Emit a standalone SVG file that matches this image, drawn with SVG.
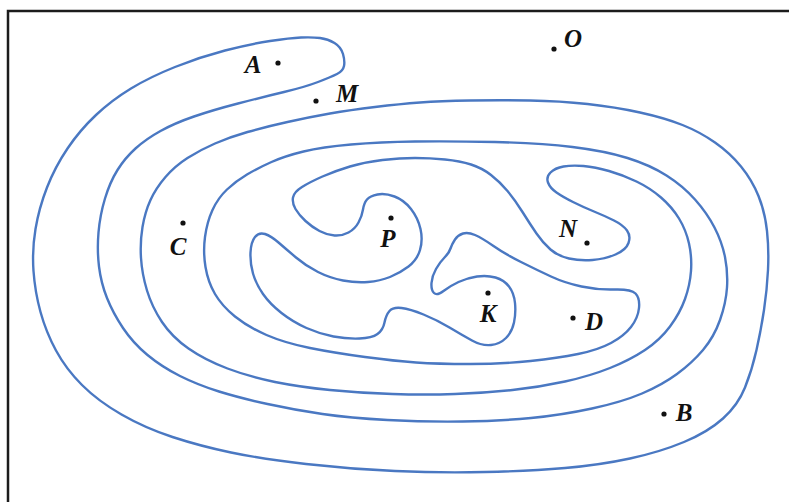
<svg xmlns="http://www.w3.org/2000/svg" width="789" height="502" viewBox="0 0 789 502">
<style>
.frame{stroke:#1c1c1c;stroke-width:2.5;fill:none}
.curve{stroke:#4a78c2;stroke-width:2.4;fill:none;stroke-linejoin:round}
.dot{fill:#111}
.lbl{font-family:"Liberation Serif","DejaVu Serif",serif;font-style:italic;font-weight:bold;font-size:25px;fill:#111;text-anchor:middle}
</style>
<rect width="789" height="502" fill="#fff"/>
<g id="frame"><path class="frame" d="M8 502 V11 H789"/></g>
<g id="curve">
<path class="curve" d="M344 66 Q345 61 343 54 T334.5 43 T320 38 T301 37.5 T270 41 T225 50.5 T175 67 T131 88.5 T96 115 T67.5 148.5 T47 187.5 T35.5 229 T33.5 271 T40.5 312 T56 350.5 T82 385 T121.5 414.5 T172.5 437 T231 452.5 T306 464 T395 471 T485 472 T565 468 T630 458.5 T684 442 T723 418.5 T745 387.5 T756.5 350 T764 310 T768 270 T767 231 T758.5 196 T741 166.5 T715 142.5 T682.5 125 T640 112.5 T587.5 104 T530 100.5 T470 100.5 T420 102.5 T375 107 T330 113.5 T287.5 122 T247.5 132 T215 143.5 T187.5 158 T165.5 177 T150.5 200 T142.5 227 T141 258 T147 290.5 T162 322 T188.5 348.5 T227.5 368.5 T275 382 T330 390 T392.5 394 T455 394 T512.5 390 T565 381.5 T610 368 T645 350 T670 326.5 T685 299 T691 271 T689 243.5 T679 218.5 T661 197.5 T636.5 181.5 T609 171 T583.5 166 T563.5 166.5 T550.5 172.5 T548 182.5 T556.5 192.5 T573 202 T594 211.5 T614 220.5 T627 230.5 T628.5 243 T615.5 254.5 T592.5 260 T569 258.5 T550.5 249.5 T536.5 233.5 T522.5 212 T507.5 191 T491 175 T471 164.5 T445 159.5 T415 158 T382.5 160 T350 166.5 T322.5 176.5 T302 187 T293 197.5 T295.5 209 T305.5 221 T319.5 231 T334.5 235.5 T348.5 232.5 T358.5 222.5 T363 209.5 T367 199.5 T377.5 194.5 T394.5 196.5 T411 209 T420.5 229 T420 250 T408.5 266.5 T390 277 T368 282 T343 280.5 T318 272 T296 257.5 T278.5 242.5 T265 234 T255 237 T250.5 252.5 T253 273.5 T263 294 T281.5 313 T306.5 328 T333.5 336.5 T359.5 338.5 T377.5 334 T384.5 322.5 T389.5 311 T401.5 308 T423.5 314.5 T449.5 327.5 T472 340.5 T491 345 T506 338 T514 322.5 T515 303 T509 286.5 T495.5 277.5 T477 276.5 T458.5 282 T443.5 291 T434 293 T431.5 283 T436 269 T444.5 257.5 T450.5 248.5 T455 239.5 T463 233.5 T475 235 T493.5 246 T521 262 T551 276.5 T581.5 286.5 T614.5 289.5 T635.5 293.5 T639 308 T631 327 T611 343 T578 354 T530.5 361 T470 364 T416 362.5 T365 357 T310 348 T266.5 335 T235 316.5 T215 294 T205.5 267 T205 237 T212.5 210 T227 189.5 T247 174.5 T271.5 162 T303.5 151.5 T351 144.5 T415 141.5 T495 142 T572.5 147 T627.5 158 T666.5 175.5 T695 199.5 T714.5 227.5 T725 257 T727 287.5 T720 320 T703 350 T677 374 T642 393.5 T592 408.5 T531 418 T462.5 421.5 T387.5 420 T322.5 414 T267.5 404 T219 391.5 T180 376 T147.5 355 T123 328 T107 298 T99 266.5 T98.5 232.5 T105 198.5 T117.5 170 T135.5 148.5 T160.5 131 T194 116.5 T238 103.5 T284 92 T318 82 T337 74 T344 66 Z"/>
</g>
<g id="point-A"><circle class="dot" cx="278" cy="63" r="2.6"/><text class="lbl" x="253" y="73">A</text></g>
<g id="point-M"><circle class="dot" cx="316" cy="101" r="2.6"/><text class="lbl" x="347" y="102">M</text></g>
<g id="point-O"><circle class="dot" cx="554" cy="49" r="2.6"/><text class="lbl" x="573" y="47">O</text></g>
<g id="point-C"><circle class="dot" cx="183" cy="223" r="2.6"/><text class="lbl" x="178" y="255">C</text></g>
<g id="point-P"><circle class="dot" cx="391" cy="218" r="2.6"/><text class="lbl" x="388" y="247">P</text></g>
<g id="point-N"><circle class="dot" cx="587" cy="243" r="2.6"/><text class="lbl" x="568" y="237">N</text></g>
<g id="point-K"><circle class="dot" cx="488" cy="293" r="2.6"/><text class="lbl" x="488" y="322">K</text></g>
<g id="point-D"><circle class="dot" cx="573" cy="318" r="2.6"/><text class="lbl" x="594" y="330">D</text></g>
<g id="point-B"><circle class="dot" cx="664" cy="414" r="2.6"/><text class="lbl" x="684" y="421">B</text></g>
</svg>
